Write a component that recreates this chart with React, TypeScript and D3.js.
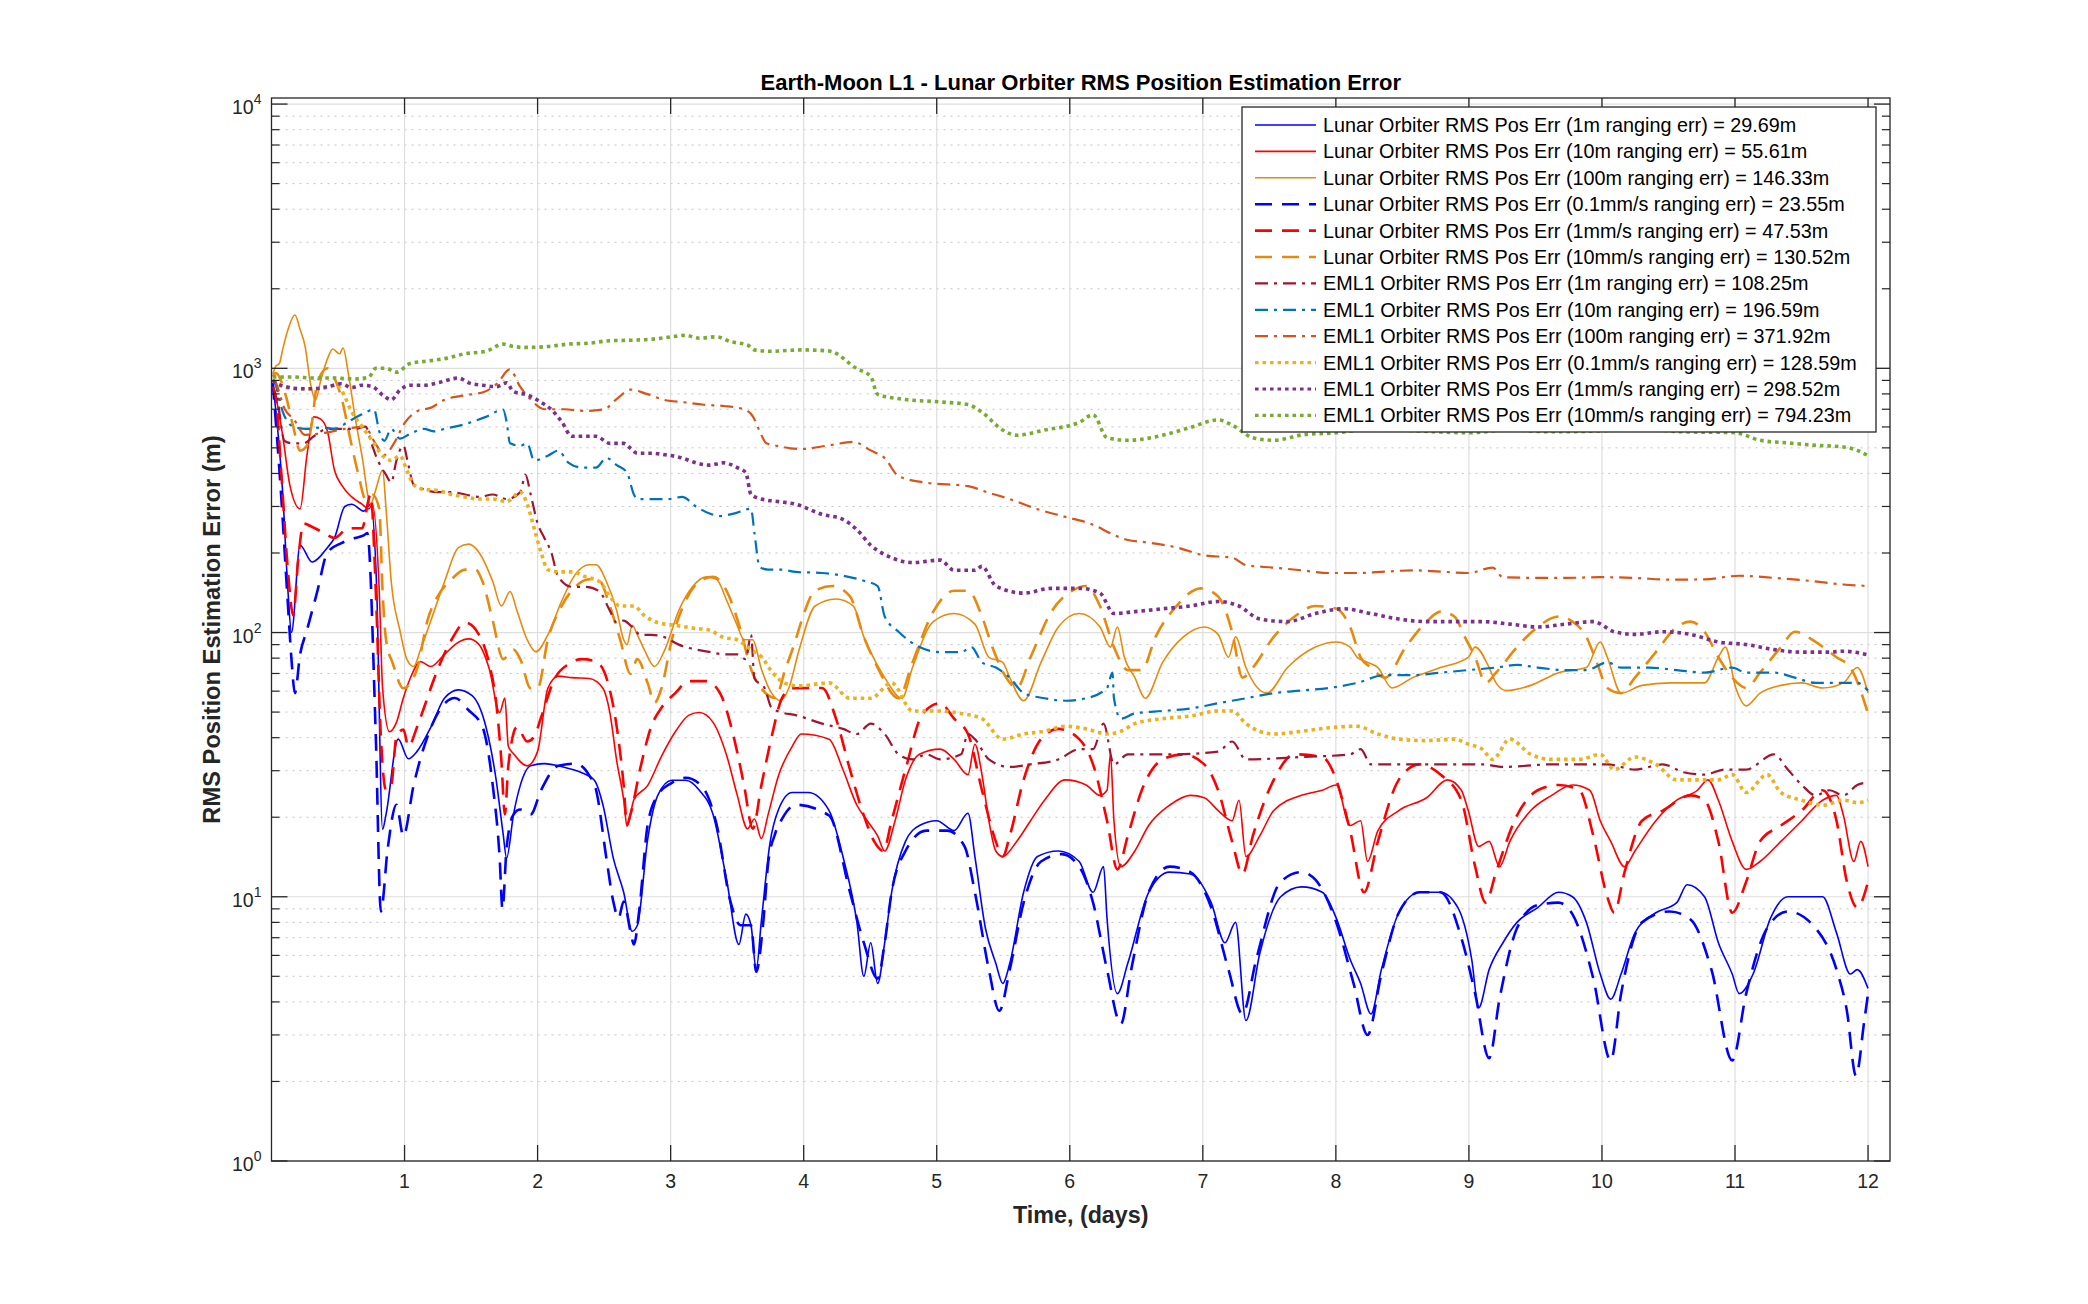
import React from 'react'
import * as d3 from 'd3'

type Pt = [number, number]

// time (days) vs RMS position error (m)
const lunar1m: Pt[] = [
  [0.01, 880], [0.085, 333], [0.124, 143], [0.15, 100], [0.215, 214], [0.305, 185], [0.421, 210], [0.473, 228],
  [0.551, 300], [0.603, 306], [0.693, 288], [0.745, 306], [0.79, 150], [0.835, 18], [0.861, 20.5], [0.952, 39.5],
  [1.029, 33.3], [1.094, 35.5], [1.198, 43.9], [1.301, 56.5], [1.405, 60.7], [1.508, 57.7], [1.612, 43.9], [1.689, 27.6],
  [1.741, 17.3], [1.767, 14], [1.819, 20.5], [1.87, 26.4], [1.948, 31.3], [2.051, 31.9], [2.155, 31.3], [2.233, 30.6],
  [2.336, 29.4], [2.427, 27.6], [2.491, 22.3], [2.569, 14], [2.647, 10.4], [2.711, 7.4], [2.75, 7.8], [2.828, 16.6],
  [2.905, 24.3], [3.009, 27.6], [3.112, 27.6], [3.216, 25.3], [3.319, 20.5], [3.423, 11.4], [3.513, 6.6], [3.565, 8.6],
  [3.604, 7.8], [3.643, 5.3], [3.682, 8.1], [3.746, 15.9], [3.811, 21.4], [3.914, 24.8], [4.034, 24.8], [4.191, 21.2],
  [4.295, 14.2], [4.4, 8], [4.452, 5], [4.504, 6.7], [4.556, 4.7], [4.609, 6.7], [4.661, 10.4], [4.765, 16.2],
  [4.87, 18.6], [5.0, 19.4], [5.131, 17.8], [5.235, 20.7], [5.287, 14.2], [5.366, 7.6], [5.444, 5.6], [5.496, 4.7],
  [5.549, 5.6], [5.653, 10.4], [5.757, 14.2], [5.914, 14.9], [6.071, 13.6], [6.175, 10.4], [6.254, 13], [6.28, 8.3],
  [6.358, 4.3], [6.436, 5.6], [6.593, 10.4], [6.75, 12.4], [6.906, 12.2], [7.063, 9.5], [7.167, 6.7], [7.246, 8],
  [7.324, 3.4], [7.428, 6.1], [7.585, 10], [7.742, 10.9], [7.898, 10.4], [8.003, 8.3], [8.107, 5.8], [8.186, 4.7],
  [8.264, 3.6], [8.342, 5.3], [8.473, 8.7], [8.63, 10.4], [8.786, 10.4], [8.917, 9.1], [9.021, 5.8], [9.073, 3.8],
  [9.152, 5.3], [9.256, 6.7], [9.361, 8], [9.517, 9.1], [9.674, 10.4], [9.778, 10], [9.883, 8], [9.987, 5.1],
  [10.066, 4.1], [10.144, 5.1], [10.248, 7.3], [10.405, 8.7], [10.562, 9.5], [10.64, 11.1], [10.771, 10], [10.875, 6.7],
  [10.979, 5.1], [11.032, 4.3], [11.136, 5.1], [11.267, 8.3], [11.397, 10], [11.528, 10], [11.658, 10], [11.763, 7.3],
  [11.867, 5.1], [11.919, 5.3], [12.0, 4.5],
]

const lunar10m: Pt[] = [
  [0.01, 860], [0.033, 776], [0.085, 553], [0.137, 363], [0.215, 294], [0.266, 467], [0.318, 655], [0.37, 642],
  [0.421, 577], [0.473, 412], [0.525, 363], [0.603, 326], [0.68, 306], [0.732, 294], [0.758, 306], [0.81, 143],
  [0.835, 61.5], [0.887, 42.1], [0.939, 45.7], [0.991, 56.5], [1.042, 67], [1.12, 77.6], [1.198, 74.4], [1.301, 82.7],
  [1.405, 91.9], [1.482, 94.6], [1.56, 90], [1.637, 72.8], [1.715, 49.8], [1.754, 56.5], [1.78, 37.1], [1.819, 34.8],
  [1.922, 31.3], [2.0, 35.5], [2.077, 61.5], [2.155, 68.4], [2.258, 67.5], [2.388, 67], [2.491, 61.5], [2.543, 49.8],
  [2.595, 32.6], [2.647, 23.3], [2.672, 18.5], [2.724, 23.3], [2.828, 26.4], [2.931, 34], [3.035, 42.1], [3.138, 48.7],
  [3.216, 49.8], [3.319, 45.7], [3.423, 34], [3.5, 24.3], [3.578, 18.1], [3.63, 19.7], [3.682, 16.6], [3.733, 20.5],
  [3.811, 28.8], [3.914, 37.1], [3.982, 41.3], [4.191, 39.5], [4.295, 30.3], [4.4, 22.2], [4.478, 19.4], [4.556, 17],
  [4.609, 14.9], [4.687, 19.4], [4.765, 27.7], [4.87, 34.6], [5.026, 36.2], [5.131, 33.1], [5.235, 29], [5.287, 37.8],
  [5.34, 29], [5.392, 19.4], [5.444, 14.9], [5.496, 14.2], [5.601, 16.2], [5.705, 19.4], [5.81, 23.2], [5.966, 27.7],
  [6.123, 26.5], [6.227, 24.2], [6.28, 25.3], [6.306, 34.6], [6.332, 19.4], [6.384, 13], [6.489, 14.9], [6.593, 18.6],
  [6.75, 22.2], [6.906, 24.2], [7.011, 23.7], [7.115, 21.2], [7.22, 19.4], [7.272, 23.2], [7.324, 14.2], [7.428, 17],
  [7.533, 21.2], [7.742, 24.2], [7.898, 25.3], [8.003, 26.5], [8.107, 18.6], [8.186, 19.4], [8.238, 13.6], [8.316, 17.8],
  [8.473, 21.2], [8.682, 23.7], [8.838, 27.7], [8.943, 25.3], [8.995, 21.2], [9.073, 15.5], [9.152, 16.2], [9.23, 13],
  [9.308, 16.2], [9.465, 21.2], [9.622, 24.2], [9.778, 26.5], [9.909, 25.3], [9.987, 19.4], [10.066, 16.2], [10.17, 13],
  [10.248, 14.9], [10.405, 19.4], [10.562, 23.2], [10.718, 25.3], [10.797, 27.7], [10.875, 23.2], [10.979, 16.2], [11.084, 12.7],
  [11.188, 13.6], [11.345, 16.2], [11.502, 19.4], [11.658, 23.2], [11.763, 24.2], [11.815, 20.3], [11.893, 13.6], [11.945, 16.2],
  [12.0, 13],
]

const lunar100m: Pt[] = [
  [0.01, 950], [0.033, 1021], [0.059, 1043], [0.085, 1184], [0.124, 1402], [0.176, 1591], [0.215, 1402], [0.253, 1209],
  [0.292, 881], [0.331, 760], [0.37, 900], [0.421, 1088], [0.46, 1184], [0.512, 1135], [0.538, 1194], [0.577, 959],
  [0.628, 655], [0.68, 467], [0.745, 306], [0.784, 348], [0.835, 412], [0.861, 294], [0.9, 156], [0.965, 102],
  [1.017, 79.3], [1.068, 74.4], [1.12, 86.2], [1.198, 111], [1.301, 156], [1.405, 209.5], [1.482, 216], [1.56, 201],
  [1.663, 156], [1.728, 126], [1.793, 143], [1.845, 121], [1.922, 93.9], [1.987, 84.5], [2.077, 98], [2.181, 131.6],
  [2.284, 166], [2.388, 180.6], [2.44, 180.6], [2.517, 156], [2.595, 121], [2.647, 93.9], [2.672, 90], [2.711, 106.5],
  [2.75, 98], [2.802, 86.2], [2.879, 74.4], [2.957, 86.2], [3.061, 121], [3.164, 149], [3.267, 162.5], [3.345, 159],
  [3.423, 131.6], [3.5, 106.5], [3.552, 93.9], [3.617, 93.9], [3.682, 72.8], [3.759, 59], [3.824, 55.3], [3.888, 61.5],
  [3.966, 86.2], [4.086, 126], [4.243, 134], [4.374, 126], [4.452, 96.3], [4.504, 84.3], [4.609, 67.5], [4.739, 56.4],
  [4.818, 73.7], [4.974, 110], [5.131, 118], [5.287, 107.6], [5.392, 80.6], [5.496, 77.1], [5.549, 67.5], [5.653, 55.2],
  [5.784, 77.1], [5.914, 105], [6.071, 118], [6.227, 105], [6.306, 88.1], [6.358, 105], [6.41, 80.6], [6.489, 67.5],
  [6.567, 56.4], [6.698, 77.1], [6.854, 96.3], [7.011, 105], [7.115, 98.4], [7.193, 80.6], [7.246, 96.3], [7.324, 73.7],
  [7.481, 59], [7.637, 73.7], [7.846, 88.1], [8.003, 92.1], [8.107, 88.1], [8.16, 80.6], [8.238, 77.1], [8.316, 73.7],
  [8.421, 61.7], [8.577, 67.5], [8.786, 73.7], [8.995, 80.6], [9.047, 88.1], [9.152, 73.7], [9.204, 64.5], [9.282, 60.3],
  [9.465, 63.1], [9.674, 70.5], [9.883, 73.7], [9.987, 92.1], [10.04, 80.6], [10.144, 59], [10.301, 63.1], [10.51, 64.5],
  [10.771, 64.5], [10.875, 80.6], [10.927, 88.1], [11.006, 61.7], [11.084, 52.8], [11.188, 59], [11.345, 63.1], [11.502, 64.5],
  [11.658, 61.7], [11.815, 64.5], [11.919, 73.7], [12.0, 59],
]

const lunar01mms: Pt[] = [
  [0.01, 880], [0.072, 333], [0.124, 126], [0.15, 79.3], [0.176, 59], [0.215, 82.7], [0.266, 102], [0.344, 143],
  [0.421, 201], [0.525, 218], [0.628, 228], [0.693, 233], [0.72, 238], [0.784, 40.3], [0.822, 8.8], [0.874, 15.3],
  [0.939, 22.3], [0.991, 17], [1.068, 26.4], [1.172, 40.3], [1.275, 51.9], [1.379, 56.5], [1.482, 50.8], [1.586, 43.9],
  [1.663, 26.4], [1.715, 14], [1.736, 9], [1.767, 15.3], [1.819, 20.5], [1.87, 21.4], [1.948, 20.5], [2.026, 25.3],
  [2.155, 31.3], [2.284, 31.9], [2.388, 28.8], [2.44, 25.3], [2.517, 14], [2.569, 9.6], [2.608, 8.3], [2.647, 9.6],
  [2.698, 7.4], [2.724, 6.6], [2.763, 8.8], [2.828, 18.8], [2.905, 24.3], [3.009, 27], [3.112, 28.2], [3.229, 26.4],
  [3.345, 18.8], [3.449, 9.6], [3.526, 7.8], [3.604, 7.8], [3.643, 5.2], [3.694, 7.8], [3.733, 13.4], [3.785, 17.3],
  [3.837, 19.7], [3.94, 22.3], [4.191, 20.3], [4.348, 10.4], [4.452, 6.7], [4.556, 4.9], [4.609, 6.7], [4.661, 10.4],
  [4.765, 14.9], [4.922, 17.8], [5.079, 17.8], [5.209, 15.5], [5.287, 10.4], [5.392, 5.3], [5.47, 3.7], [5.549, 5.3],
  [5.653, 9.5], [5.784, 13.6], [5.94, 14.5], [6.071, 13], [6.175, 9.5], [6.28, 5.3], [6.384, 3.3], [6.462, 5.3],
  [6.593, 10.4], [6.75, 13], [6.906, 12.4], [7.063, 9.1], [7.193, 5.3], [7.298, 3.6], [7.402, 5.8], [7.585, 11.4],
  [7.742, 12.4], [7.846, 11.6], [8.003, 8], [8.133, 4.7], [8.238, 3], [8.342, 5.1], [8.473, 8.7], [8.63, 10.4],
  [8.786, 10.4], [8.943, 7], [9.047, 4.3], [9.152, 2.45], [9.23, 4.1], [9.361, 7.6], [9.517, 9.3], [9.674, 9.5],
  [9.778, 8.6], [9.935, 4.9], [10.066, 2.4], [10.144, 4.3], [10.301, 8], [10.51, 8.8], [10.666, 8.2], [10.823, 5.3],
  [10.979, 2.4], [11.084, 4.3], [11.241, 7.6], [11.397, 8.8], [11.606, 7.6], [11.763, 5.3], [11.841, 3.7], [11.909, 2.1],
  [11.972, 3.4], [12.0, 4.3],
]

const lunar1mms: Pt[] = [
  [0.01, 850], [0.033, 776], [0.072, 412], [0.124, 170], [0.163, 116], [0.202, 192], [0.24, 259], [0.292, 253],
  [0.396, 238], [0.473, 228], [0.577, 248], [0.68, 248], [0.745, 333], [0.784, 143], [0.822, 40.3], [0.861, 25.3],
  [0.9, 26.4], [0.939, 40.3], [0.991, 42.9], [1.029, 37.1], [1.094, 43.9], [1.146, 51.9], [1.223, 67], [1.353, 93.9],
  [1.456, 109], [1.56, 98], [1.637, 76], [1.689, 54.2], [1.728, 32.6], [1.754, 20.5], [1.78, 31.3], [1.845, 43.9],
  [1.922, 38.7], [1.974, 40.3], [2.026, 47.7], [2.129, 67], [2.233, 76], [2.336, 79.3], [2.44, 77.6], [2.53, 64.2],
  [2.595, 43.9], [2.647, 26.4], [2.672, 18.8], [2.698, 20.5], [2.776, 31.3], [2.853, 43.9], [2.931, 51.9], [3.035, 59],
  [3.138, 65.5], [3.267, 65.5], [3.371, 59], [3.474, 40.3], [3.552, 26.4], [3.617, 18.1], [3.682, 26.4], [3.759, 40.3],
  [3.837, 56.5], [3.914, 61.5], [4.139, 61.7], [4.243, 47.2], [4.348, 30.3], [4.452, 20.3], [4.53, 16.2], [4.598, 14.9],
  [4.661, 19.4], [4.765, 30.3], [4.896, 49.4], [5.026, 54], [5.131, 47.2], [5.235, 41.3], [5.34, 25.3], [5.444, 16.2],
  [5.496, 14.2], [5.549, 17], [5.653, 27.7], [5.784, 39.5], [5.914, 43.2], [6.071, 39.5], [6.175, 31.7], [6.28, 19.4],
  [6.358, 12.7], [6.436, 17], [6.541, 25.3], [6.698, 33.1], [6.854, 34.6], [7.011, 31.7], [7.115, 25.3], [7.22, 16.2],
  [7.298, 12.2], [7.376, 17], [7.533, 27.7], [7.69, 34.6], [7.898, 33.8], [8.003, 27.7], [8.107, 17.8], [8.212, 10.4],
  [8.316, 16.2], [8.473, 27.7], [8.63, 31.7], [8.786, 29], [8.943, 23.2], [9.047, 13], [9.126, 9.5], [9.204, 12.4],
  [9.361, 20.3], [9.517, 25.3], [9.674, 26.5], [9.831, 25.3], [9.935, 17], [10.04, 10], [10.092, 8.7], [10.17, 12.4],
  [10.301, 19.4], [10.457, 21.2], [10.666, 24.2], [10.771, 23.2], [10.875, 16.2], [10.979, 8.7], [11.084, 11.4], [11.188, 16.2],
  [11.345, 18.6], [11.502, 21.2], [11.658, 25.3], [11.763, 19.4], [11.841, 11.4], [11.919, 9.1], [12.0, 11.4],
]

const lunar10mms: Pt[] = [
  [0.01, 930], [0.033, 959], [0.111, 776], [0.163, 602], [0.215, 488], [0.266, 509], [0.305, 628], [0.344, 881],
  [0.421, 1000], [0.473, 919], [0.525, 776], [0.603, 509], [0.654, 395], [0.706, 320], [0.758, 333], [0.81, 294],
  [0.835, 143], [0.861, 93.9], [0.913, 76], [0.991, 61.5], [1.042, 64.2], [1.094, 72.8], [1.172, 111], [1.249, 137],
  [1.353, 159], [1.456, 173], [1.534, 173], [1.586, 156], [1.663, 111], [1.741, 79.3], [1.819, 86.2], [1.87, 79.3],
  [1.948, 61.5], [2.0, 61.5], [2.077, 93.9], [2.181, 126], [2.284, 149], [2.388, 159], [2.465, 157], [2.543, 126],
  [2.621, 93.9], [2.698, 69.8], [2.75, 79.3], [2.828, 64.2], [2.879, 54.2], [2.931, 61.5], [3.009, 93.9], [3.112, 131.6],
  [3.216, 156], [3.319, 162.5], [3.423, 143], [3.526, 102], [3.604, 72.8], [3.682, 61.5], [3.785, 56.5], [3.863, 72.8],
  [3.94, 93.9], [3.982, 110], [4.086, 144], [4.217, 150], [4.348, 137], [4.452, 96.3], [4.556, 73.7], [4.713, 56.4],
  [4.818, 77.1], [4.974, 120], [5.131, 144], [5.235, 144], [5.34, 115], [5.418, 88.1], [5.522, 67.5], [5.601, 61.7],
  [5.705, 80.6], [5.862, 120], [6.019, 144], [6.123, 150], [6.227, 126], [6.332, 88.1], [6.436, 72.1], [6.541, 72.1],
  [6.645, 96.3], [6.802, 126], [6.985, 147], [7.115, 137], [7.22, 100.7], [7.298, 67.5], [7.376, 73.7], [7.533, 96.3],
  [7.69, 115], [7.846, 126], [8.003, 123], [8.107, 105], [8.186, 80.6], [8.264, 73.7], [8.369, 67.5], [8.525, 88.1],
  [8.682, 110], [8.786, 120], [8.891, 115], [8.969, 96.3], [9.047, 80.6], [9.126, 64.5], [9.204, 70.5], [9.361, 88.1],
  [9.517, 105], [9.674, 115], [9.778, 110], [9.883, 96.3], [9.961, 77.1], [10.04, 61.7], [10.144, 59], [10.248, 67.5],
  [10.405, 84.3], [10.562, 105], [10.666, 110], [10.771, 100.7], [10.875, 80.6], [10.979, 67.5], [11.084, 61.7], [11.188, 70.5],
  [11.345, 88.1], [11.45, 100.7], [11.606, 92.1], [11.763, 80.6], [11.867, 73.7], [12.0, 49.4],
]

const eml1m: Pt[] = [
  [0.01, 900], [0.033, 881], [0.059, 684], [0.098, 531], [0.163, 520], [0.24, 520], [0.318, 553], [0.421, 590],
  [0.525, 590], [0.628, 590], [0.706, 602], [0.758, 509], [0.784, 467], [0.861, 395], [0.9, 370], [0.939, 448],
  [0.991, 509], [1.029, 430], [1.068, 363], [1.146, 348], [1.249, 340], [1.353, 340], [1.456, 333], [1.56, 326],
  [1.663, 333], [1.767, 320], [1.87, 340], [1.909, 395], [1.948, 333], [2.0, 259], [2.051, 228], [2.103, 201],
  [2.155, 162.5], [2.258, 149], [2.362, 149], [2.465, 143], [2.543, 121], [2.595, 109], [2.647, 111], [2.698, 106.5],
  [2.776, 98], [2.853, 98], [2.957, 95.9], [3.061, 90], [3.19, 86.2], [3.293, 84.5], [3.397, 82.7], [3.5, 82.7],
  [3.565, 79.3], [3.604, 98], [3.63, 67], [3.707, 61.5], [3.759, 51.9], [3.837, 49.8], [3.94, 48.7], [4.139, 45.2],
  [4.295, 43.2], [4.4, 41.3], [4.504, 45.2], [4.609, 41.3], [4.713, 34.6], [4.818, 33.1], [4.922, 34.6], [5.026, 33.1],
  [5.183, 34.6], [5.235, 41.3], [5.287, 39.5], [5.392, 33.1], [5.549, 31], [5.705, 31.7], [5.914, 33.1], [6.071, 36.2],
  [6.175, 36.2], [6.254, 45.2], [6.332, 31.7], [6.436, 34.6], [6.75, 34.6], [7.115, 35.4], [7.22, 38.7], [7.324, 33.1],
  [7.742, 33.8], [8.107, 34.6], [8.186, 36.2], [8.264, 31.7], [8.682, 31.7], [9.1, 31.7], [9.256, 31], [9.622, 31.7],
  [10.04, 31.7], [10.248, 30.3], [10.457, 31.7], [10.614, 29.6], [10.771, 29], [10.927, 30.3], [11.084, 30.3], [11.293, 34.6],
  [11.397, 30.3], [11.502, 26.5], [11.606, 24.2], [11.71, 25.3], [11.815, 24.2], [11.919, 26.5], [12.0, 27.1],
]

const eml10m: Pt[] = [
  [0.01, 900], [0.033, 863], [0.085, 684], [0.163, 602], [0.266, 590], [0.37, 597], [0.473, 590], [0.577, 628],
  [0.68, 670], [0.771, 698], [0.81, 577], [0.848, 531], [0.9, 590], [0.965, 542], [1.042, 565], [1.146, 590],
  [1.223, 577], [1.301, 590], [1.456, 615], [1.612, 655], [1.741, 698], [1.767, 628], [1.793, 520], [1.87, 509],
  [1.922, 520], [1.974, 448], [2.077, 467], [2.155, 488], [2.233, 439], [2.336, 421], [2.44, 421], [2.517, 458],
  [2.595, 430], [2.672, 403], [2.724, 333], [2.75, 320], [2.853, 320], [2.983, 320], [3.086, 326], [3.19, 300],
  [3.293, 282], [3.371, 276], [3.474, 282], [3.604, 294], [3.63, 238], [3.669, 177], [3.733, 173], [3.837, 173],
  [3.94, 169.6], [4.139, 168], [4.295, 164], [4.452, 157], [4.556, 150], [4.609, 115], [4.713, 100.7], [4.87, 88.1],
  [5.026, 84.3], [5.183, 84.3], [5.261, 88.1], [5.34, 77.1], [5.444, 73.7], [5.549, 67.5], [5.653, 59], [5.81, 56.4],
  [5.966, 55.2], [6.123, 56.4], [6.28, 61.7], [6.321, 70.5], [6.332, 56.4], [6.384, 47.2], [6.489, 49.4], [6.698, 50.5],
  [6.906, 51.6], [7.115, 54], [7.324, 56.4], [7.533, 59], [7.742, 60.3], [7.95, 61.7], [8.16, 64.5], [8.369, 69],
  [8.577, 69], [8.786, 70.5], [8.995, 72.1], [9.204, 73.7], [9.361, 75.4], [9.517, 73.7], [9.726, 72.1], [9.883, 72.1],
  [10.04, 77.1], [10.144, 73.7], [10.353, 73.7], [10.562, 72.1], [10.771, 70.5], [10.979, 73.7], [11.084, 70.5], [11.293, 70.5],
  [11.45, 67.5], [11.606, 64.5], [11.815, 64.5], [11.919, 64.5], [12.0, 60.3],
]

const eml100m: Pt[] = [
  [0.01, 900], [0.03, 880], [0.1, 700], [0.17, 640], [0.25, 560], [0.4, 570], [0.55, 590], [0.7, 600],
  [0.78, 520], [0.85, 470], [0.92, 520], [1.0, 620], [1.1, 690], [1.2, 710], [1.3, 760], [1.45, 790],
  [1.6, 815], [1.7, 880], [1.79, 990], [1.87, 850], [1.95, 760], [2.05, 700], [2.2, 700], [2.35, 690],
  [2.5, 700], [2.6, 770], [2.7, 830], [2.82, 800], [2.95, 760], [3.1, 744], [3.25, 728], [3.4, 720],
  [3.55, 700], [3.62, 655], [3.67, 577], [3.72, 520], [3.8, 509], [3.9, 498], [3.982, 495], [4.191, 511],
  [4.374, 527], [4.504, 489], [4.609, 457], [4.713, 391], [4.922, 369], [5.235, 358], [5.392, 338], [5.549, 320],
  [5.757, 293], [5.966, 274], [6.175, 256], [6.332, 234], [6.436, 224], [6.593, 219], [6.802, 210], [7.011, 196],
  [7.22, 192], [7.324, 180], [7.533, 176], [7.742, 172], [7.95, 168], [8.16, 168], [8.369, 170], [8.577, 172],
  [8.786, 170], [8.995, 168], [9.178, 176], [9.256, 162], [9.517, 161], [9.726, 161], [9.987, 162], [10.248, 161],
  [10.51, 158.5], [10.771, 159], [11.032, 164], [11.293, 161], [11.554, 157], [11.815, 152], [12.0, 150],
]

const eml01mms: Pt[] = [
  [0.01, 900], [0.033, 881], [0.111, 845], [0.215, 837], [0.318, 837], [0.421, 845], [0.486, 863], [0.525, 827],
  [0.603, 684], [0.68, 602], [0.758, 531], [0.835, 467], [0.9, 448], [0.965, 467], [1.017, 412], [1.068, 363],
  [1.146, 348], [1.249, 345], [1.353, 333], [1.456, 326], [1.56, 320], [1.663, 320], [1.767, 313], [1.87, 340],
  [1.922, 306], [1.974, 248], [2.026, 201], [2.077, 173], [2.155, 169.6], [2.258, 169.6], [2.362, 162.5], [2.465, 156],
  [2.543, 137], [2.621, 126], [2.724, 126], [2.802, 116], [2.905, 109], [3.035, 106.5], [3.164, 104], [3.293, 102],
  [3.397, 95.9], [3.5, 93.9], [3.604, 86.2], [3.682, 81], [3.759, 71.3], [3.863, 64.2], [3.966, 62.8], [4.191, 64.5],
  [4.348, 56.4], [4.504, 56.4], [4.661, 64.5], [4.818, 50.5], [5.026, 50.5], [5.183, 49.4], [5.34, 47.2], [5.496, 39.5],
  [5.653, 41.3], [5.81, 42.3], [5.966, 44.2], [6.123, 43.2], [6.28, 41.3], [6.384, 42.3], [6.489, 45.2], [6.698, 47.2],
  [6.906, 48.3], [7.115, 50.5], [7.22, 50.5], [7.324, 45.2], [7.533, 41.3], [7.742, 42.3], [7.95, 43.6], [8.16, 44.2],
  [8.316, 41.3], [8.473, 39.5], [8.682, 39], [8.891, 39.5], [8.995, 37.8], [9.1, 36.2], [9.178, 33.1], [9.308, 39.5],
  [9.465, 34.6], [9.622, 33.1], [9.831, 33.1], [9.987, 34.6], [10.092, 30.3], [10.248, 33.8], [10.405, 31.7], [10.562, 27.7],
  [10.718, 27.7], [10.875, 27.7], [10.979, 29], [11.084, 24.8], [11.241, 29], [11.345, 24.8], [11.502, 23.2], [11.658, 22.2],
  [11.815, 23.2], [11.919, 22.7], [12.0, 23.2],
]

const eml1mms: Pt[] = [
  [0.01, 900], [0.033, 881], [0.111, 852], [0.215, 837], [0.318, 837], [0.421, 852], [0.525, 874], [0.603, 845],
  [0.68, 863], [0.758, 852], [0.835, 793], [0.9, 760], [0.965, 827], [1.042, 863], [1.146, 863], [1.249, 881],
  [1.405, 919], [1.482, 881], [1.586, 863], [1.689, 852], [1.767, 881], [1.819, 816], [1.922, 793], [2.026, 744],
  [2.103, 698], [2.181, 628], [2.258, 553], [2.336, 553], [2.44, 553], [2.543, 520], [2.647, 520], [2.698, 498],
  [2.75, 477], [2.853, 477], [2.957, 471], [3.086, 458], [3.19, 439], [3.293, 430], [3.397, 439], [3.5, 421],
  [3.565, 403], [3.604, 333], [3.682, 320], [3.811, 313], [3.94, 306], [4.139, 280], [4.295, 268], [4.4, 245],
  [4.504, 214], [4.661, 192], [4.818, 184], [5.026, 188], [5.131, 172], [5.287, 172], [5.34, 178], [5.444, 150],
  [5.653, 141], [5.862, 147], [6.071, 147], [6.227, 141], [6.332, 118], [6.489, 120], [6.698, 123], [6.906, 126],
  [7.115, 131], [7.272, 126], [7.428, 112.5], [7.637, 110], [7.846, 118], [8.055, 123], [8.264, 118], [8.473, 112.5],
  [8.682, 110], [8.891, 110], [9.1, 110], [9.308, 107.6], [9.517, 105], [9.726, 107.6], [9.935, 110], [10.092, 100.7],
  [10.248, 98.4], [10.457, 100.7], [10.666, 98.4], [10.875, 92.1], [11.084, 90.1], [11.293, 86.2], [11.502, 84.3], [11.71, 84.3],
  [11.815, 85], [12.0, 82.4],
]

const eml10mms: Pt[] = [
  [0.01, 930], [0.033, 927], [0.163, 927], [0.318, 919], [0.473, 919], [0.628, 911], [0.732, 927], [0.784, 1000],
  [0.861, 1000], [0.939, 967], [1.042, 1043], [1.172, 1065], [1.301, 1088], [1.456, 1135], [1.612, 1160], [1.741, 1235],
  [1.819, 1209], [1.922, 1200], [2.077, 1209], [2.233, 1235], [2.388, 1245], [2.543, 1272], [2.698, 1277], [2.853, 1288],
  [3.009, 1316], [3.112, 1333], [3.216, 1300], [3.345, 1316], [3.449, 1262], [3.578, 1225], [3.63, 1174], [3.759, 1160],
  [3.888, 1169], [3.982, 1174], [4.191, 1163], [4.4, 996], [4.504, 931], [4.556, 797], [4.765, 762], [5.026, 746],
  [5.235, 729], [5.34, 682], [5.496, 584], [5.601, 558], [5.81, 584], [6.071, 624], [6.175, 667], [6.28, 546],
  [6.436, 534], [6.698, 558], [6.906, 597], [7.115, 638], [7.22, 610], [7.376, 546], [7.533, 534], [7.75, 560],
  [8.0, 570], [8.3, 590], [8.6, 580], [9.0, 570], [9.3, 585], [9.6, 575], [10.0, 580], [10.3, 590],
  [10.6, 575], [10.997, 571], [11.188, 534], [11.397, 522], [11.606, 511], [11.815, 504], [11.919, 489], [12.0, 467],
]

const seriesLabels = [
  'Lunar Orbiter RMS Pos Err (1m ranging err) = 29.69m',
  'Lunar Orbiter RMS Pos Err (10m ranging err) = 55.61m',
  'Lunar Orbiter RMS Pos Err (100m ranging err) = 146.33m',
  'Lunar Orbiter RMS Pos Err (0.1mm/s ranging err) = 23.55m',
  'Lunar Orbiter RMS Pos Err (1mm/s ranging err) = 47.53m',
  'Lunar Orbiter RMS Pos Err (10mm/s ranging err) = 130.52m',
  'EML1 Orbiter RMS Pos Err (1m ranging err) = 108.25m',
  'EML1 Orbiter RMS Pos Err (10m ranging err) = 196.59m',
  'EML1 Orbiter RMS Pos Err (100m ranging err) = 371.92m',
  'EML1 Orbiter RMS Pos Err (0.1mm/s ranging err) = 128.59m',
  'EML1 Orbiter RMS Pos Err (1mm/s ranging err) = 298.52m',
  'EML1 Orbiter RMS Pos Err (10mm/s ranging err) = 794.23m',
]
const seriesData = [lunar1m, lunar10m, lunar100m, lunar01mms, lunar1mms, lunar10mms, eml1m, eml10m, eml100m, eml01mms, eml1mms, eml10mms]
const xTickValues = [1, 2, 3, 4, 5, 6, 7, 8, 9, 10, 11, 12]
const yDecades = [0, 1, 2, 3, 4]

// line styles (colour, width, dash)
const styles = [
  { color: '#0000FF', width: 1.6, dash: '' },
  { color: '#FF0000', width: 1.6, dash: '' },
  { color: '#E8890C', width: 1.6, dash: '' },
  { color: '#0000FF', width: 2.6, dash: '17,10' },
  { color: '#FF0000', width: 2.6, dash: '17,10' },
  { color: '#E8890C', width: 2.6, dash: '17,10' },
  { color: '#A2142F', width: 2.2, dash: '13,6,3,6' },
  { color: '#0072BD', width: 2.2, dash: '13,6,3,6' },
  { color: '#D95319', width: 2.2, dash: '13,6,3,6' },
  { color: '#EDB120', width: 3.6, dash: '3.6,3.9' },
  { color: '#7E2F8E', width: 3.6, dash: '3.6,3.9' },
  { color: '#77AC30', width: 3.6, dash: '3.6,3.9' },
]

const W = 2088
const H = 1304
const left = 271.5
const right = 1890
const top = 98
const bottom = 1161
const ink = '#262626'
const font = '"Liberation Sans", Arial, Helvetica, sans-serif'

export default function App() {
  const x = d3.scaleLinear().domain([0, 12.165]).range([left, right])
  const y = d3.scaleLog().domain([1, Math.pow(10, 4.023)]).range([bottom, top])
  const line = d3.line<Pt>().x(d => x(d[0])).y(d => y(d[1])).curve(d3.curveMonotoneX)

  const minor: number[] = []
  yDecades.slice(0, 4).forEach(p => {
    for (let k = 2; k <= 9; k++) minor.push(k * Math.pow(10, p))
  })

  const legX = 1242
  const legY = 107
  const legW = 634
  const legH = 325
  const rowH = 26.4

  return (
    <svg width={W} height={H} style={{ position: 'absolute', left: 0, top: 0, background: '#fff' }} fontFamily={font}>
      <rect x={0} y={0} width={W} height={H} fill="#fff" />
      <defs>
        <clipPath id="plotClip">
          <rect x={left} y={top} width={right - left} height={bottom - top} />
        </clipPath>
      </defs>

      {/* grid */}
      {minor.map(v => (
        <line key={'mg' + v} x1={left} x2={right} y1={y(v)} y2={y(v)} stroke="#c4c4c4" strokeWidth={1} strokeDasharray="2,5" />
      ))}
      {yDecades.map(p => (
        <line key={'yg' + p} x1={left} x2={right} y1={y(Math.pow(10, p))} y2={y(Math.pow(10, p))} stroke="#dedede" strokeWidth={1.2} />
      ))}
      {xTickValues.map(t => (
        <line key={'xg' + t} x1={x(t)} x2={x(t)} y1={top} y2={bottom} stroke="#dedede" strokeWidth={1.2} />
      ))}

      {/* series */}
      <g clipPath="url(#plotClip)">
        {seriesData.map((s, i) => (
          <path key={'s' + i} d={line(s) || ''} fill="none" stroke={styles[i].color} strokeWidth={styles[i].width}
            strokeDasharray={styles[i].dash || undefined} strokeLinejoin="round" />
        ))}
      </g>

      {/* axes box and ticks */}
      <rect x={left} y={top} width={right - left} height={bottom - top} fill="none" stroke={ink} strokeWidth={1.3} />
      {xTickValues.map(t => (
        <g key={'xt' + t}>
          <line x1={x(t)} x2={x(t)} y1={bottom} y2={bottom - 16} stroke={ink} strokeWidth={1.3} />
          <line x1={x(t)} x2={x(t)} y1={top} y2={top + 16} stroke={ink} strokeWidth={1.3} />
          <text x={x(t)} y={bottom + 27} textAnchor="middle" fontSize={19.5} fill={ink}>{t}</text>
        </g>
      ))}
      {yDecades.map(p => (
        <g key={'yt' + p}>
          <line x1={left} x2={left + 16} y1={y(Math.pow(10, p))} y2={y(Math.pow(10, p))} stroke={ink} strokeWidth={1.3} />
          <line x1={right} x2={right - 16} y1={y(Math.pow(10, p))} y2={y(Math.pow(10, p))} stroke={ink} strokeWidth={1.3} />
          <text x={left - 10} y={y(Math.pow(10, p)) + 10} textAnchor="end" fontSize={19.5} fill={ink}>
            10<tspan dy={-10} fontSize={14}>{p}</tspan>
          </text>
        </g>
      ))}
      {minor.map(v => (
        <g key={'mt' + v}>
          <line x1={left} x2={left + 8} y1={y(v)} y2={y(v)} stroke={ink} strokeWidth={1.2} />
          <line x1={right} x2={right - 8} y1={y(v)} y2={y(v)} stroke={ink} strokeWidth={1.2} />
        </g>
      ))}

      {/* labels */}
      <text x={(left + right) / 2} y={90} textAnchor="middle" fontSize={22} fontWeight="bold" fill="#000">
        Earth-Moon L1 - Lunar Orbiter RMS Position Estimation Error
      </text>
      <text x={(left + right) / 2} y={1223} textAnchor="middle" fontSize={23.3} fontWeight="bold" fill={ink}>
        Time, (days)
      </text>
      <text transform={`translate(220,${(top + bottom) / 2}) rotate(-90)`} textAnchor="middle" fontSize={23.7} fontWeight="bold" fill={ink}>
        RMS Position Estimation Error (m)
      </text>

      {/* legend */}
      <rect x={legX} y={legY} width={legW} height={legH} fill="#fff" stroke={ink} strokeWidth={1.3} />
      {seriesLabels.map((lab, i) => {
        const cy = legY + 18 + i * rowH
        return (
          <g key={'lg' + i}>
            <line x1={legX + 13} x2={legX + 74} y1={cy} y2={cy} stroke={styles[i].color}
              strokeWidth={Math.min(styles[i].width, 3.2)} strokeDasharray={styles[i].dash || undefined} />
            <text x={legX + 81} y={cy} dominantBaseline="central" fontSize={19.8} fill="#000">{lab}</text>
          </g>
        )
      })}
    </svg>
  )
}
